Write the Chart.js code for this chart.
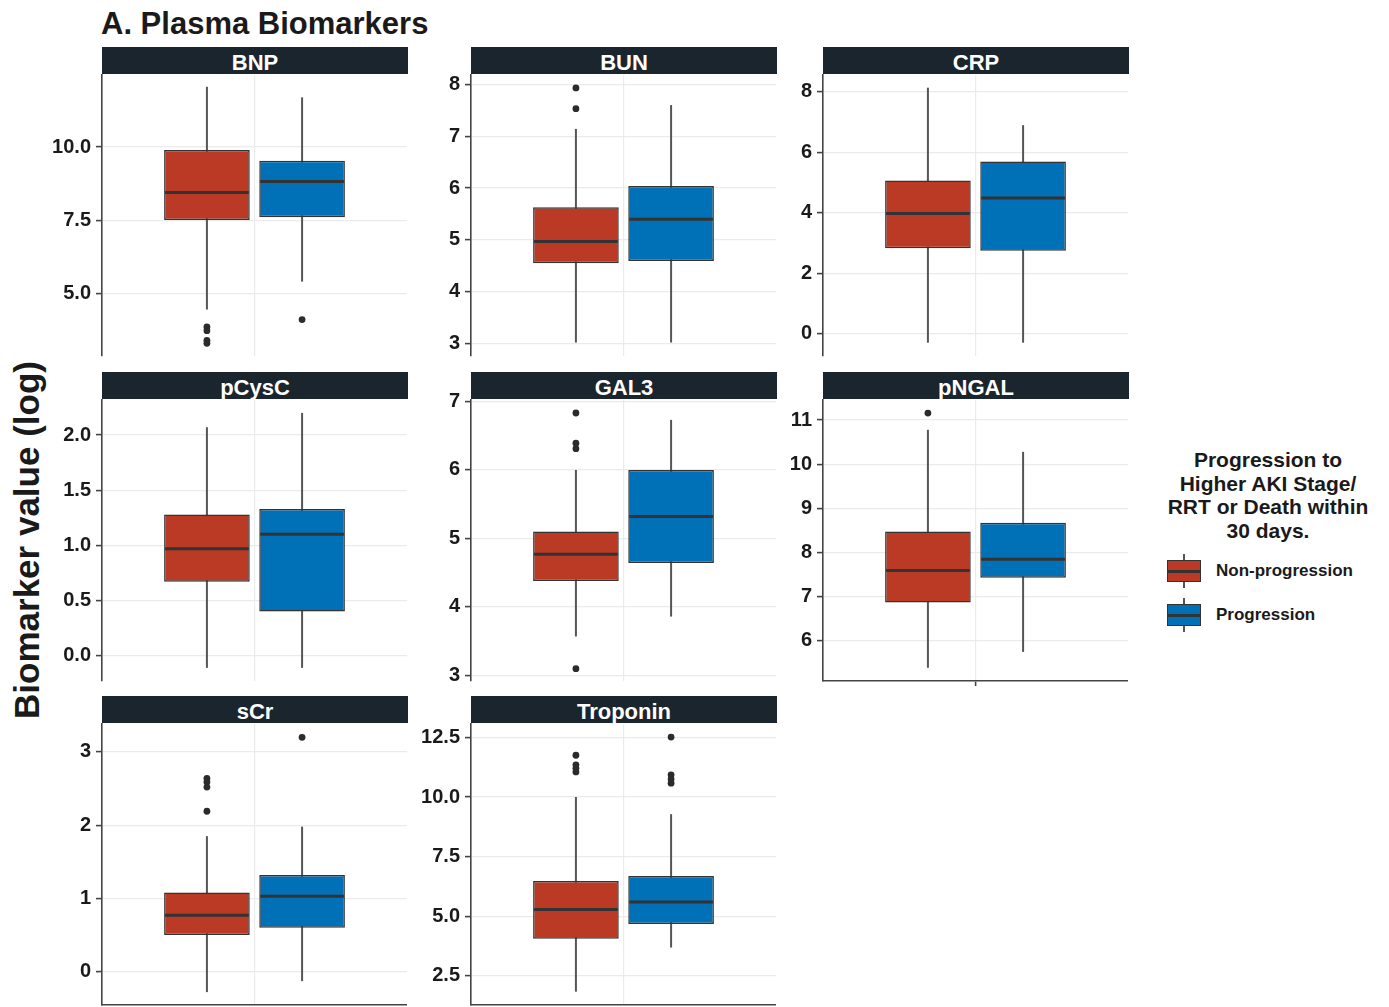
<!DOCTYPE html>
<html>
<head>
<meta charset="utf-8">
<title>Plasma Biomarkers</title>
<script src="https://cdn.jsdelivr.net/npm/chart.js@4/dist/chart.umd.min.js"></script>
<style>
  html, body { margin: 0; padding: 0; background: #ffffff; }
  body { width: 1389px; height: 1007px; position: relative; overflow: hidden;
         font-family: "Liberation Sans", Arial, sans-serif; color: #1a1a1a; }
  .abs { position: absolute; }
  .title { left: 101px; top: 6px; font-size: 31px; font-weight: bold; white-space: nowrap; }
  .ylab { left: 27px; top: 540px; font-size: 35px; font-weight: bold; white-space: nowrap;
          transform: translate(-50%, -50%) rotate(-90deg); }
  .strip { background: #1b252d; color: #ffffff; font-weight: bold; font-size: 22px;
           text-align: center; line-height: 32px; height: 27px; overflow: hidden; }
  canvas.panel { position: absolute; }
  .legend-title { left: 1148px; top: 448px; width: 240px; text-align: center; font-weight: bold;
                  font-size: 21px; line-height: 23.5px; }
  .key-whisker { width: 2px; background: #555555; }
  .key-box { box-sizing: border-box; border: 1.5px solid #333333; }
  .key-median { height: 2.5px; background: #333333; }
  .key-label { font-weight: bold; font-size: 17px; line-height: 20px; white-space: nowrap; }
</style>
</head>
<body>
<div class="abs title">A. Plasma Biomarkers</div>
<div class="abs ylab">Biomarker value (log)</div>

<script>
// Biomarkers shown, one facet each, in reading order
const markers = ['BNP', 'BUN', 'CRP', 'pCysC', 'GAL3', 'pNGAL', 'sCr', 'Troponin'];
const groupNames = ['Non-progression', 'Progression'];
const groupColors = ['#ba3a26', '#0071b6'];

// Box-plot summaries for the non-progression group (log scale)
const lowerNon = [4.47, 3.02, -0.30, -0.11, 3.57, 5.38, -0.28, 1.84];
const q1Non    = [7.52, 4.55,  2.83,  0.67, 4.38, 6.86,  0.50, 4.06];
const medNon   = [8.45, 4.97,  3.98,  0.97, 4.77, 7.59,  0.77, 5.28];
const q3Non    = [9.90, 5.63,  5.07,  1.28, 5.10, 8.47,  1.08, 6.48];
const upperNon = [12.05, 7.14, 8.14,  2.07, 6.00, 10.78, 1.85, 10.00];
const outliersNon = [
  [3.88, 3.75, 3.42, 3.32], [7.93, 7.53], [], [],
  [6.83, 6.39, 6.31, 3.10], [11.16], [2.64, 2.59, 2.52, 2.19],
  [11.75, 11.35, 11.20, 11.05]
];

// Box-plot summaries for the progression group (log scale)
const lowerProg = [5.42, 3.02, -0.30, -0.11, 3.86, 5.74, -0.13, 3.69];
const q1Prog    = [7.61, 4.59,  2.74,  0.40, 4.64, 7.42,  0.60, 4.68];
const medProg   = [8.83, 5.40,  4.49,  1.10, 5.32, 7.84,  1.03, 5.60];
const q3Prog    = [9.53, 6.04,  5.70,  1.33, 6.00, 8.67,  1.32, 6.69];
const upperProg = [11.69, 7.60, 6.90,  2.20, 6.73, 10.28, 1.98, 9.28];
const outliersProg = [
  [4.13], [], [], [], [], [], [3.20], [12.51, 10.93, 10.75, 10.58]
];

// Y axis per facet (free scales)
const yTicks = [
  [5, 7.5, 10], [3, 4, 5, 6, 7, 8], [0, 2, 4, 6, 8], [0, 0.5, 1, 1.5, 2],
  [3, 4, 5, 6, 7], [6, 7, 8, 9, 10, 11], [0, 1, 2, 3], [2.5, 5, 7.5, 10, 12.5]
];
const yMin = [2.89, 2.76, -0.74, -0.229, 2.92, 5.08, -0.456, 1.28];
const yMax = [12.45, 8.18, 8.56, 2.317, 7.02, 11.456, 3.382, 13.06];

// ---- facet geometry ----
const COL_LEFT = [102, 471, 823];
const ROW_TOP = [74, 398.5, 723];
const PLOT_W = 305;
const PLOT_H = 283;
const STRIP_H = 27;
const AXIS_W = 70;
const PAD = 16;
const nCols = 3;

// whiskers behind the boxes, medians and outlying points on top
const boxPlotParts = {
  id: 'boxPlotParts',
  beforeDatasetsDraw(chart) {
    const ctx = chart.ctx, y = chart.scales.y;
    chart.data.datasets.forEach((ds, i) => {
      const bar = chart.getDatasetMeta(i).data[0];
      if (!bar) return;
      ctx.save();
      ctx.strokeStyle = '#555555';
      ctx.lineWidth = 2;
      ctx.beginPath();
      ctx.moveTo(bar.x, y.getPixelForValue(ds.lower));
      ctx.lineTo(bar.x, y.getPixelForValue(ds.upper));
      ctx.stroke();
      ctx.restore();
    });
  },
  afterDatasetsDraw(chart) {
    const ctx = chart.ctx, y = chart.scales.y;
    chart.data.datasets.forEach((ds, i) => {
      const bar = chart.getDatasetMeta(i).data[0];
      if (!bar) return;
      const half = bar.width / 2;
      const ym = y.getPixelForValue(ds.median);
      ctx.save();
      ctx.strokeStyle = '#333333';
      ctx.lineWidth = 3;
      ctx.beginPath();
      ctx.moveTo(bar.x - half + 1, ym);
      ctx.lineTo(bar.x + half - 1, ym);
      ctx.stroke();
      ctx.fillStyle = '#2b2b2b';
      ds.outliers.forEach(v => {
        ctx.beginPath();
        ctx.arc(bar.x, y.getPixelForValue(v), 3.4, 0, Math.PI * 2);
        ctx.fill();
      });
      ctx.restore();
    });
  }
};

markers.forEach((name, k) => {
  const col = k % nCols, row = Math.floor(k / nCols);
  const left = COL_LEFT[col], top = ROW_TOP[row];
  const isBottom = (k + nCols) >= markers.length;

  const strip = document.createElement('div');
  strip.className = 'abs strip';
  strip.style.left = left + 'px';
  strip.style.top = (top - STRIP_H) + 'px';
  strip.style.width = (PLOT_W + 1) + 'px';
  strip.textContent = name;

  const canvas = document.createElement('canvas');
  canvas.className = 'panel';
  canvas.width = AXIS_W + PLOT_W;
  canvas.height = PLOT_H + 2 * PAD;
  canvas.style.left = (left - AXIS_W) + 'px';
  canvas.style.top = (top - PAD) + 'px';
  canvas.style.width = canvas.width + 'px';
  canvas.style.height = canvas.height + 'px';
  document.body.appendChild(canvas);
  document.body.appendChild(strip);

  const ticks = yTicks[k];
  const decimals = ticks.some(t => !Number.isInteger(t)) ? 1 : 0;

  const mk = (g, lower, q1, med, q3, upper, outs) => ({
    label: groupNames[g],
    data: [[q1[k], q3[k]]],
    backgroundColor: groupColors[g],
    borderColor: '#333333',
    borderWidth: 1.5,
    borderSkipped: false,
    categoryPercentage: 0.624,
    barPercentage: 0.9,
    lower: lower[k], median: med[k], upper: upper[k], outliers: outs[k]
  });

  new Chart(canvas, {
    type: 'bar',
    data: {
      labels: [''],
      datasets: [
        mk(0, lowerNon, q1Non, medNon, q3Non, upperNon, outliersNon),
        mk(1, lowerProg, q1Prog, medProg, q3Prog, upperProg, outliersProg)
      ]
    },
    options: {
      responsive: false,
      animation: false,
      devicePixelRatio: 1,
      layout: { autoPadding: false, padding: { top: PAD, bottom: PAD, left: 0, right: 0 } },
      plugins: { legend: { display: false }, title: { display: false }, tooltip: { enabled: false } },
      scales: {
        x: {
          type: 'category',
          offset: true,
          grid: {
            offset: false,
            color: '#ebebeb',
            lineWidth: 1.2,
            drawTicks: k === 5,
            tickLength: 5,
            tickColor: '#444444',
            tickWidth: 1.6
          },
          border: { display: isBottom, color: '#444444', width: 1.6 },
          ticks: { display: false },
          afterFit(s) { s.height = 0; }
        },
        y: {
          type: 'linear',
          min: yMin[k],
          max: yMax[k],
          afterBuildTicks(s) { s.ticks = ticks.map(v => ({ value: v })); },
          grid: {
            color: '#ebebeb',
            lineWidth: 1.2,
            tickLength: 6,
            tickColor: '#444444',
            tickWidth: 1.6
          },
          border: { display: true, color: '#444444', width: 1.6 },
          ticks: {
            padding: 5,
            color: '#1a1a1a',
            font: { family: '"Liberation Sans", Arial, sans-serif', size: 20, weight: 'bold' },
            callback: v => Number(v).toFixed(decimals)
          },
          afterFit(s) { s.width = AXIS_W; }
        }
      }
    },
    plugins: [boxPlotParts]
  });
});

// legend: title and two box-plot keys
const lt = document.createElement('div');
lt.className = 'abs legend-title';
lt.innerHTML = 'Progression to<br>Higher AKI Stage/<br>RRT or Death within<br>30 days.';
document.body.appendChild(lt);

const keyTops = [560, 604];
groupNames.forEach((g, i) => {
  const t = keyTops[i];
  const w = document.createElement('div');
  w.className = 'abs key-whisker';
  Object.assign(w.style, { left: '1183px', top: (t - 6) + 'px', height: '34px' });
  const b = document.createElement('div');
  b.className = 'abs key-box';
  Object.assign(b.style, { left: '1167px', top: t + 'px', width: '34px', height: '22px', background: groupColors[i] });
  const m = document.createElement('div');
  m.className = 'abs key-median';
  Object.assign(m.style, { left: '1168px', top: (t + 10) + 'px', width: '32px' });
  const l = document.createElement('div');
  l.className = 'abs key-label';
  Object.assign(l.style, { left: '1216px', top: (t + 1) + 'px' });
  l.textContent = g;
  [w, b, m, l].forEach(e => document.body.appendChild(e));
});
</script>
</body>
</html>
